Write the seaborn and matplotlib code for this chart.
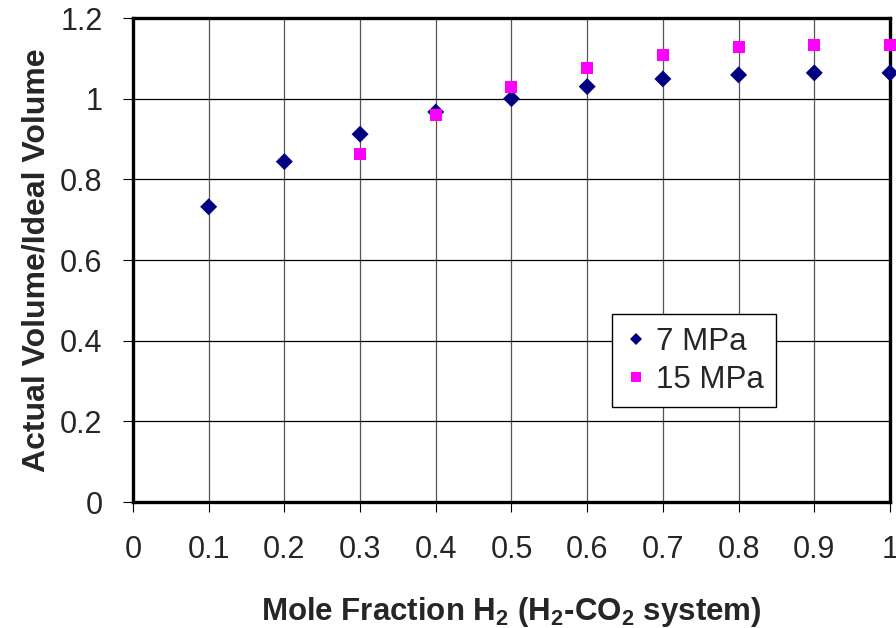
import pandas as pd
import matplotlib.pyplot as plt
import seaborn as sns

# dados
mole_frac_7 = [0.1, 0.2, 0.3, 0.4, 0.5, 0.6, 0.7, 0.8, 0.9, 1.0]
ratio_7 = [0.732, 0.844, 0.912, 0.967, 1.000, 1.030, 1.049, 1.059, 1.064, 1.064]
mole_frac_15 = [0.3, 0.4, 0.5, 0.6, 0.7, 0.8, 0.9, 1.0]
ratio_15 = [0.862, 0.959, 1.028, 1.076, 1.108, 1.128, 1.133, 1.133]
series_names = ['7 MPa', '15 MPa']
x_ticks = [0, 0.1, 0.2, 0.3, 0.4, 0.5, 0.6, 0.7, 0.8, 0.9, 1]
y_ticks = [0, 0.2, 0.4, 0.6, 0.8, 1.0, 1.2]

df = pd.concat([
    pd.DataFrame({'x': mole_frac_7, 'y': ratio_7, 'P': series_names[0]}),
    pd.DataFrame({'x': mole_frac_15, 'y': ratio_15, 'P': series_names[1]}),
])

sns.set_theme(style="white")
plt.rcParams['font.family'] = ['Liberation Sans', 'DejaVu Sans']
plt.rcParams['mathtext.default'] = 'regular'

fig = plt.figure(figsize=(8.96, 6.28), dpi=100)
ax = fig.add_axes([0.1484, 0.2006, 0.8449, 0.7707])

cores = {'7 MPa': '#000080', '15 MPa': '#FF00FF'}
marcadores = {'7 MPa': 'D', '15 MPa': 's'}

sns.scatterplot(data=df, x='x', y='y', hue='P', style='P', palette=cores,
                markers=marcadores, s=75, linewidth=0, ax=ax, zorder=3,
                clip_on=False)

ax.set_xlim(0, 1)
ax.set_ylim(0, 1.2)
ax.set_xticks(x_ticks)
ax.set_xticklabels([f'{t:g}' for t in x_ticks])
ax.set_yticks(y_ticks)
ax.set_yticklabels([f'{t:g}' for t in y_ticks])

# grade: verticais cinza, horizontais pretas
for t in x_ticks[1:-1]:
    ax.axvline(t, color='#555555', lw=0.9, zorder=1)
for t in y_ticks[1:-1]:
    ax.axhline(t, color='black', lw=0.9, zorder=1)

for s in ax.spines.values():
    s.set_linewidth(2.4)
    s.set_color('black')

ax.tick_params(axis='both', direction='out', length=7, width=0.8, color='black',
               bottom=True, left=True)
ax.tick_params(axis='x', pad=17)
ax.tick_params(axis='y', pad=15)
# rotulos dos ticks estreitos como no original
for lab in ax.get_xticklabels() + ax.get_yticklabels():
    lab.set_family(['Liberation Sans Narrow', 'Liberation Sans'])
    lab.set_fontsize(22)

ax.set_xlabel('Mole Fraction H$_2$ (H$_2$-CO$_2$ system)', fontsize=22.5,
              fontweight='bold', labelpad=21)
ax.set_ylabel('Actual Volume/Ideal Volume', fontsize=23, fontweight='bold',
              labelpad=6)

leg = ax.legend(loc='upper left', bbox_to_anchor=(0.633, 0.388), fontsize=22.5,
                frameon=True, fancybox=False, edgecolor='black', framealpha=1,
                borderpad=0.4, handlelength=0.7, handletextpad=0.3,
                markerscale=0.75, labelspacing=0.25, borderaxespad=0)
leg.get_frame().set_linewidth(1.0)

plt.savefig('out.png', dpi=100)
